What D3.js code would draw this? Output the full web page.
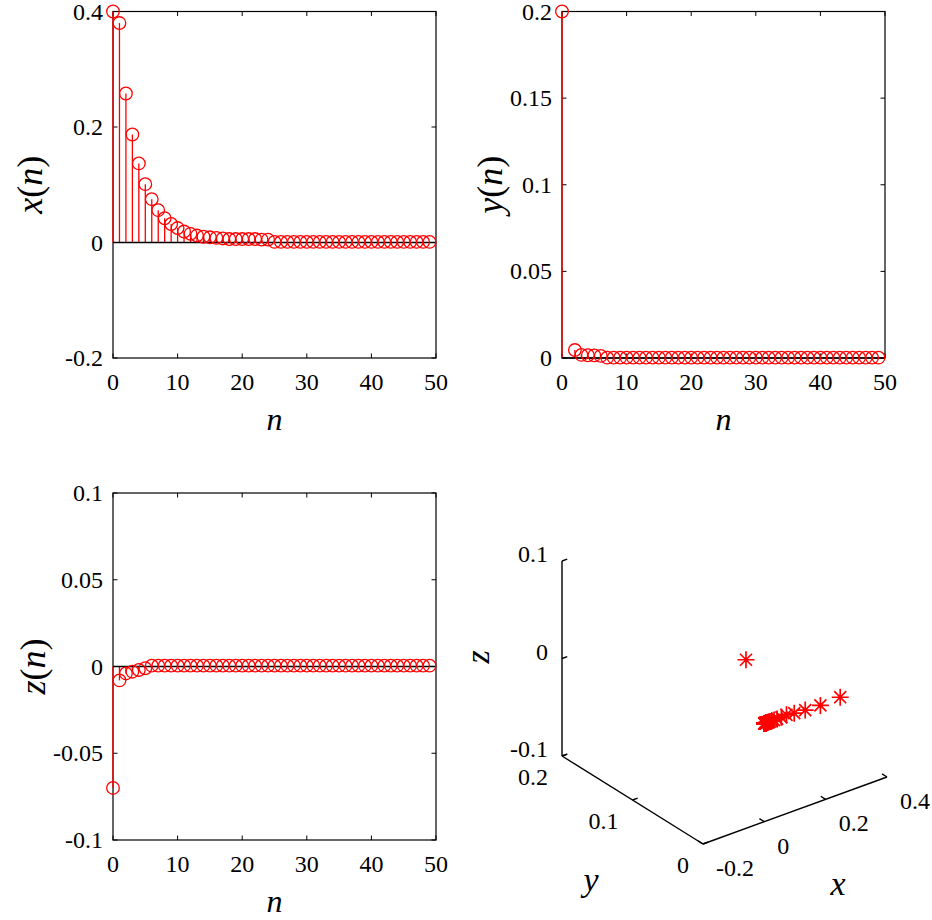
<!DOCTYPE html>
<html>
<head>
<meta charset="utf-8">
<script src="https://cdn.jsdelivr.net/npm/d3@7"></script>
<style>
  body { margin: 0; background: #fff; }
  text { font-family: "Liberation Serif", "DejaVu Serif", serif; fill: #000; }
  .math { font-style: italic; }
</style>
</head>
<body>
<script>
// the three sequences, n = 0..49
const nVals = d3.range(50);
const xVals = [0.4, 0.38, 0.258, 0.187, 0.137, 0.101, 0.075, 0.056, 0.042, 0.032,
  0.025, 0.019, 0.015, 0.012, 0.010, 0.009, 0.008, 0.007, 0.006, 0.006,
  0.006, 0.006, 0.006, 0.005, 0.005, 0.001, 0.001, 0.001, 0.001, 0.001,
  0.001, 0.001, 0.001, 0.001, 0.001, 0.001, 0.001, 0.001, 0.001, 0.001,
  0.001, 0.001, 0.001, 0.001, 0.001, 0.001, 0.001, 0.001, 0.001, 0.001];
// y(1) has no marker in the picture (and no star in the 3D panel)
const yVals = [0.2, null, 0.0046, 0.0018, 0.0016, 0.0015, 0.0012, 0.0002, 0.0002, 0.0002,
  0.0002, 0.0002, 0.0002, 0.0002, 0.0002, 0.0002, 0.0002, 0.0002, 0.0002, 0.0002,
  0.0002, 0.0002, 0.0002, 0.0002, 0.0002, 0.0002, 0.0002, 0.0002, 0.0002, 0.0002,
  0.0002, 0.0002, 0.0002, 0.0002, 0.0002, 0.0002, 0.0002, 0.0002, 0.0002, 0.0002,
  0.0002, 0.0002, 0.0002, 0.0002, 0.0002, 0.0002, 0.0002, 0.0002, 0.0002, 0.0002];
const zVals = [-0.07, -0.008, -0.004, -0.003, -0.002, -0.001, 0.0005, 0.0005, 0.0005, 0.0005,
  0.0005, 0.0005, 0.0005, 0.0005, 0.0005, 0.0005, 0.0005, 0.0005, 0.0005, 0.0005,
  0.0005, 0.0005, 0.0005, 0.0005, 0.0005, 0.0005, 0.0005, 0.0005, 0.0005, 0.0005,
  0.0005, 0.0005, 0.0005, 0.0005, 0.0005, 0.0005, 0.0005, 0.0005, 0.0005, 0.0005,
  0.0005, 0.0005, 0.0005, 0.0005, 0.0005, 0.0005, 0.0005, 0.0005, 0.0005, 0.0005];

// tick labels
const nTicks = [0, 10, 20, 30, 40, 50];
const xTicks = [-0.2, 0, 0.2, 0.4];
const yTicks = [0, 0.05, 0.1, 0.15, 0.2];
const zTicks = [-0.1, -0.05, 0, 0.05, 0.1];
const x3Ticks = [-0.2, 0, 0.2, 0.4];
const y3Ticks = [0, 0.1, 0.2];
const z3Ticks = [-0.1, 0, 0.1];

const w = 932, h = 920;
const red = "#ff0000";
const tickFont = 24;

const svg = d3.select("body").append("svg")
  .attr("width", w).attr("height", h);

// one stem panel
function stemPanel(box, domain, ticks, vals, label, labelX) {
  const g = svg.append("g");
  const xs = d3.scaleLinear().domain([0, 50]).range([box.left, box.right]);
  const ys = d3.scaleLinear().domain(domain).range([box.bottom, box.top]);
  const tl = 4.5;

  const pts = nVals.map(n => ({ n: n, v: vals[n] })).filter(d => d.v !== null);

  // box + inward ticks (under the data, like matlab)
  g.append("rect")
    .attr("x", box.left).attr("y", box.top)
    .attr("width", box.right - box.left).attr("height", box.bottom - box.top)
    .attr("fill", "none").attr("stroke", "#000").attr("stroke-width", 1.2);
  nTicks.forEach(t => {
    g.append("line").attr("x1", xs(t)).attr("x2", xs(t))
      .attr("y1", box.bottom).attr("y2", box.bottom - tl).attr("stroke", "#000");
    g.append("line").attr("x1", xs(t)).attr("x2", xs(t))
      .attr("y1", box.top).attr("y2", box.top + tl).attr("stroke", "#000");
    g.append("text").attr("x", xs(t)).attr("y", box.bottom + 32)
      .attr("text-anchor", "middle").attr("font-size", tickFont).text(t);
  });
  ticks.forEach(t => {
    g.append("line").attr("x1", box.left).attr("x2", box.left + tl)
      .attr("y1", ys(t)).attr("y2", ys(t)).attr("stroke", "#000");
    g.append("line").attr("x1", box.right).attr("x2", box.right - tl)
      .attr("y1", ys(t)).attr("y2", ys(t)).attr("stroke", "#000");
    g.append("text").attr("x", box.left - 10).attr("y", ys(t) + 8)
      .attr("text-anchor", "end").attr("font-size", tickFont).text(t);
  });

  // stems
  g.selectAll("line.stem").data(pts).enter().append("line")
    .attr("x1", d => xs(d.n)).attr("x2", d => xs(d.n))
    .attr("y1", ys(0)).attr("y2", d => ys(d.v))
    .attr("stroke", red).attr("stroke-width", 1.3);

  // baseline
  g.append("line")
    .attr("x1", box.left).attr("x2", box.right)
    .attr("y1", ys(0)).attr("y2", ys(0))
    .attr("stroke", "#000").attr("stroke-width", 1.3);

  // markers on top
  g.selectAll("circle").data(pts).enter().append("circle")
    .attr("cx", d => xs(d.n)).attr("cy", d => ys(d.v)).attr("r", 6.3)
    .attr("fill", "none").attr("stroke", red).attr("stroke-width", 1.3);

  // labels
  g.append("text").attr("class", "math")
    .attr("x", (box.left + box.right) / 2).attr("y", box.bottom + 72)
    .attr("text-anchor", "middle").attr("font-size", 32).text("n");
  const ly = (box.top + box.bottom) / 2;
  const t = g.append("text")
    .attr("transform", `translate(${labelX},${ly}) rotate(-90)`)
    .attr("text-anchor", "middle").attr("font-size", 36);
  t.append("tspan").attr("class", "math").text(label);
  t.append("tspan").text("(");
  t.append("tspan").attr("class", "math").text("n");
  t.append("tspan").text(")");
}

stemPanel({ left: 113, right: 436, top: 11.5, bottom: 358 }, [-0.2, 0.4], xTicks, xVals, "x", 42);
stemPanel({ left: 562, right: 885, top: 11.5, bottom: 358 }, [0, 0.2], yTicks, yVals, "y", 502);
stemPanel({ left: 113, right: 436, top: 493, bottom: 840 }, [-0.1, 0.1], zTicks, zVals, "z", 45);

// 3D panel: fixed oblique view
const origin = [703, 844];           // (x=-0.2, y=0, z=-0.1)
const ex = [184, -67], ey = [-141, -88], ez = [0, -195];
const fx = d3.scaleLinear().domain([-0.2, 0.4]).range([0, 1]);
const fy = d3.scaleLinear().domain([0, 0.2]).range([0, 1]);
const fz = d3.scaleLinear().domain([-0.1, 0.1]).range([0, 1]);
function proj(x, y, z) {
  const a = fx(x), b = fy(y), c = fz(z);
  return [origin[0] + a * ex[0] + b * ey[0] + c * ez[0],
          origin[1] + a * ex[1] + b * ey[1] + c * ez[1]];
}
const g3 = svg.append("g");
function seg(p, q) {
  g3.append("line").attr("x1", p[0]).attr("y1", p[1]).attr("x2", q[0]).attr("y2", q[1])
    .attr("stroke", "#000").attr("stroke-width", 1.4);
}
seg(proj(-0.2, 0, -0.1), proj(0.4, 0, -0.1));
seg(proj(-0.2, 0, -0.1), proj(-0.2, 0.2, -0.1));
seg(proj(-0.2, 0.2, -0.1), proj(-0.2, 0.2, 0.1));

x3Ticks.forEach(t => {
  const p = proj(t, 0, -0.1), q = proj(t, 0.007, -0.1);
  seg(p, q);
  g3.append("text").attr("x", p[0] + 13).attr("y", p[1] + 32)
    .attr("font-size", tickFont).text(t);
});
y3Ticks.forEach(t => {
  const p = proj(-0.2, t, -0.1), q = proj(-0.183, t, -0.1);
  seg(p, q);
  g3.append("text").attr("x", p[0] - 14).attr("y", p[1] + 29)
    .attr("text-anchor", "end").attr("font-size", tickFont).text(t);
});
z3Ticks.forEach(t => {
  const p = proj(-0.2, 0.2, t), q = proj(-0.183, 0.2, t);
  seg(p, q);
  g3.append("text").attr("x", p[0] - 14).attr("y", p[1] + 1)
    .attr("text-anchor", "end").attr("font-size", tickFont).text(t);
});
g3.append("text").attr("class", "math").attr("x", 838).attr("y", 895)
  .attr("text-anchor", "middle").attr("font-size", 34).text("x");
g3.append("text").attr("class", "math").attr("x", 591).attr("y", 891)
  .attr("text-anchor", "middle").attr("font-size", 34).text("y");
g3.append("text").attr("class", "math")
  .attr("transform", "translate(489,657) rotate(-90)")
  .attr("text-anchor", "middle").attr("font-size", 34).text("z");

// stars
const orbit = nVals.filter(n => yVals[n] !== null)
  .map(n => proj(xVals[n], yVals[n], zVals[n]));
const sr = 8.5, sd = sr * 0.7071;
const star = `M${-sr},0H${sr}M0,${-sr}V${sr}M${-sd},${-sd}L${sd},${sd}M${-sd},${sd}L${sd},${-sd}`;
g3.selectAll("path.star").data(orbit).enter().append("path")
  .attr("transform", d => `translate(${d[0]},${d[1]})`)
  .attr("d", star).attr("fill", "none").attr("stroke", red).attr("stroke-width", 1.7);
</script>
</body>
</html>
